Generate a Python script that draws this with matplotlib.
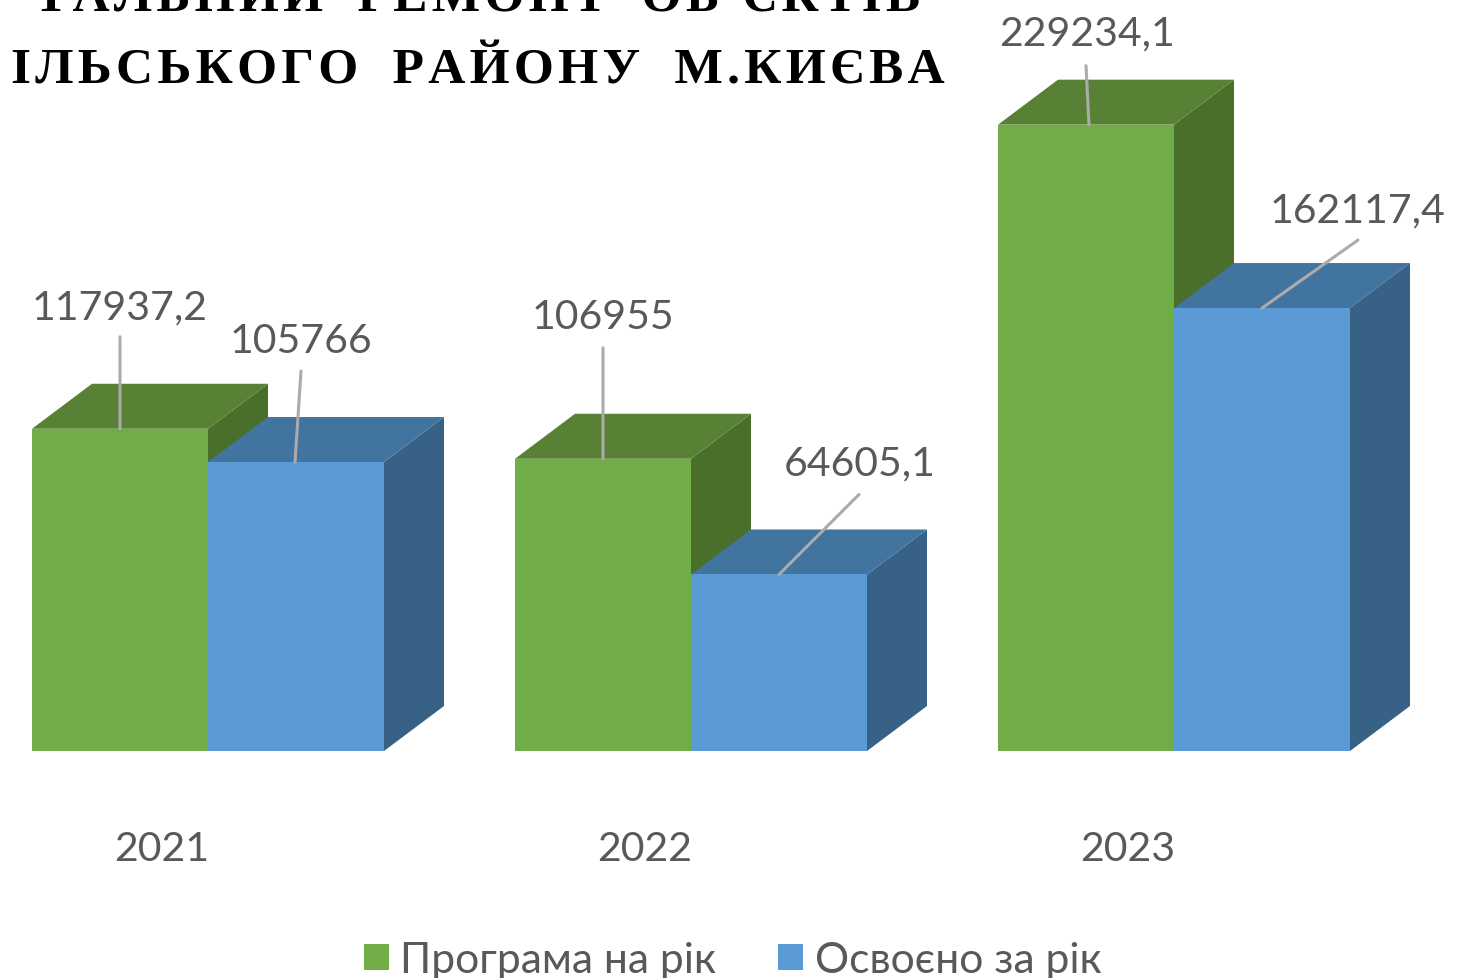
import matplotlib
matplotlib.use("Agg")
import matplotlib.pyplot as plt
from matplotlib.patches import Patch, Polygon

years = ["2021", "2022", "2023"]
plan = [117937.2, 106955, 229234.1]
done = [105766, 64605.1, 162117.4]
plan_labels = ["117937,2", "106955", "229234,1"]
done_labels = ["105766", "64605,1", "162117,4"]
series_names = ["Програма на рік", "Освоєно за рік"]
title_lines = ["ТАЛЬНИЙ РЕМОНТ ОБ'ЄКТІВ", "ІЛЬСЬКОГО РАЙОНУ М.КИЄВА"]

W, H = 1484, 979
BASE = 752
PER_PX = 366.0
GROUP = 483.0
BAR = 176 / GROUP
DX, DY = 60 / GROUP, 45 * PER_PX
X0 = 32

plt.rcParams["font.family"] = ["Lato", "DejaVu Sans"]
fig = plt.figure(figsize=(W / 100, H / 100), dpi=100)
ax = fig.add_axes([0, 1 - BASE / H, 1, BASE / H])
ax.set_xlim(-X0 / GROUP, (W - X0) / GROUP)
ax.set_ylim(0, BASE * PER_PX)
for s in ax.spines.values():
    s.set_visible(False)
ax.set_yticks([])
ax.patch.set_alpha(0)


def bar3d(x, v, front, top, side, z):
    ax.bar(x, v, BAR, align="edge", color=front, zorder=z + 0.2)
    ax.add_patch(Polygon([(x, v), (x + DX, v + DY), (x + BAR + DX, v + DY), (x + BAR, v)],
                         closed=True, fc=top, ec="none", zorder=z + 0.1))
    ax.add_patch(Polygon([(x + BAR, 0), (x + BAR + DX, DY), (x + BAR + DX, v + DY), (x + BAR, v)],
                         closed=True, fc=side, ec="none", zorder=z))


for i in range(len(years)):
    bar3d(i, plan[i], "#70AD47", "#598135", "#4A6F2B", 2 + i * 2)
    bar3d(i + BAR, done[i], "#5B9BD5", "#4274A0", "#386285", 3 + i * 2)

ax.set_xticks([i + 130 / GROUP for i in range(len(years))], years)
ax.tick_params(axis="x", length=0, pad=57, labelsize=29.5, labelcolor="#595959")

# leader start shift, leader end and label centre, in pixels from the bar's top centre
plan_lead = [((0, 0), (0, 92), (0, 122)), ((0, 0), (0, 111), (0, 142)), ((3, 0), (0, 59), (-2, 92))]
done_lead = [((-1, 0), (5, 91), (6, 122)), ((0, 0), (80, 80), (81, 112)), ((0, 0), (96, 68), (96, 98))]


def leader(x, v, txt, spec):
    start, end, lab = spec
    ax.annotate("", xy=(x, v), xytext=(end[0] - start[0], end[1] - start[1]), textcoords="offset pixels",
                xycoords="data", arrowprops=dict(arrowstyle="-", color="#ABABAB", lw=2.2, shrinkA=0, shrinkB=0),
                zorder=20)
    ax.annotate(txt, xy=(x, v), xytext=(lab[0], lab[1]), textcoords="offset pixels",
                ha="center", va="center", fontsize=29.5, color="#595959", zorder=21)


for i in range(len(years)):
    leader(i + BAR / 2 + plan_lead[i][0][0] / GROUP, plan[i], plan_labels[i], plan_lead[i])
    leader(i + BAR * 1.5 + done_lead[i][0][0] / GROUP, done[i], done_labels[i], done_lead[i])

fig.legend(handles=[Patch(fc="#70AD47", label=series_names[0]), Patch(fc="#5B9BD5", label=series_names[1])],
           loc="center", bbox_to_anchor=(732.5 / W, 1 - 961 / H), ncol=2, frameon=False, fontsize=30.7,
           labelcolor="#595959", handlelength=0.58, handleheight=0.58, handletextpad=0.28,
           columnspacing=1.44, borderpad=0)

hair = "\u200a"
for line, right, base in zip(title_lines, (920, 945), (12, 84)):
    fig.text(right / W, 1 - base / H, hair.join(line).replace(" ", "  "), ha="right", va="baseline",
             fontsize=37, fontweight="bold", family=["Liberation Serif", "DejaVu Serif"], color="black")

fig.savefig("out.png", dpi=100)
